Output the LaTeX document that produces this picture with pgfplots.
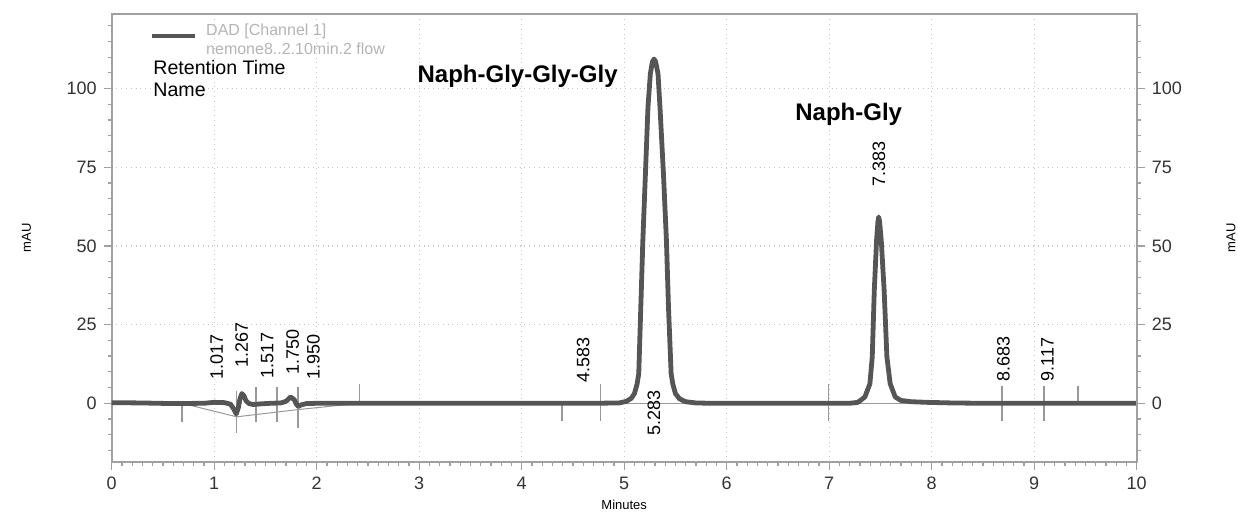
\documentclass[border=0pt]{standalone}
\usepackage{fontspec}
\setmainfont{Liberation Sans}
\usepackage{pgfplots}
\pgfplotsset{compat=1.18}

\definecolor{sig}{HTML}{555555}
\definecolor{axisgray}{HTML}{A0A0A0}
\definecolor{gridgray}{HTML}{C8C8C8}
\definecolor{markgray}{HTML}{999999}
\definecolor{legtext}{HTML}{B4B4B4}

\begin{document}
\begin{tikzpicture}
\pgfplotsset{
  chrom/.style={
    scale only axis,
    width=512.5pt, height=223.85pt,
    xmin=0, xmax=10, ymin=-18.56, ymax=123.7,
    ytick={0,25,...,100},
    minor ytick={-15,-10,...,120},
    tick align=outside,
    major tick length=4pt, minor tick length=2pt,
    tick style={axisgray, line width=0.6pt},
    axis line style={axisgray, line width=0.9pt},
    ticklabel style={font=\fontsize{9}{10}\selectfont, text=black!80},
    /pgf/number format/assume math mode=true,
  }
}

\begin{axis}[chrom,
  xtick={0,...,10},
  minor xtick={0,0.1,...,10},
  xtick pos=left, ytick pos=left,
  xmajorgrids, ymajorgrids,
  grid style={gridgray, dotted, line width=0.6pt},
  xlabel={Minutes}, ylabel={mAU},
  xlabel style={font=\fontsize{6.5}{7}\selectfont, at={(axis description cs:0.5,-0.0967)}, anchor=center},
  ylabel style={font=\fontsize{6.5}{7}\selectfont, at={(axis description cs:-0.0831,0.5)}, anchor=center},
  legend style={at={(axis cs:0.364,122.3)}, anchor=north west, draw=none, fill=none,
    inner sep=0pt, column sep=2.5pt, font=\fontsize{8}{9.25}\selectfont, text=legtext,
    legend cell align=left},
  legend image code/.code={\draw[#1] (0pt,-2.6pt) -- (21.5pt,-2.6pt);},
]

% baselines drawn by the integrator
\addplot[forget plot, markgray, line width=0.5pt] coordinates {
  (0.686,0) (1.22,-4.3) (1.818,-2.0) (2.42,0)
};
\addplot[forget plot, markgray, line width=0.5pt] coordinates {
  (4.77,0) (6.99,0) (8.686,0)
};

% peak start / end markers
\addplot[forget plot, markgray, line width=0.6pt, unbounded coords=jump] coordinates {
  (0.686,0.3) (0.686,-5.9) (nan,nan)
  (1.22,4.0) (1.22,-9.5) (nan,nan)
  (1.408,5.2) (1.408,-5.9) (nan,nan)
  (1.613,5.2) (1.613,-5.9) (nan,nan)
  (1.818,5.2) (1.818,-8.0) (nan,nan)
  (2.42,0) (2.42,6.0) (nan,nan)
  (4.393,0) (4.393,-5.5) (nan,nan)
  (4.77,6.0) (4.77,-5.5) (nan,nan)
  (6.99,6.0) (6.99,-5.5) (nan,nan)
  (8.686,5.5) (8.686,-5.5) (nan,nan)
  (9.096,5.5) (9.096,-5.5) (nan,nan)
  (9.427,0) (9.427,5.5)
};

% detector signal
\addplot[sig, line width=2.4pt, line join=round] coordinates {
  (0,0.2) (0.3,0.1) (0.6,-0.1) (0.9,0) (1.0,0.3) (1.1,0.2) (1.16,-0.3)
  (1.19,-1.8) (1.215,-3.4) (1.235,-1.5) (1.25,1.2) (1.27,3.1) (1.29,2.4)
  (1.31,0.8) (1.34,-0.1) (1.38,-0.4) (1.45,-0.2) (1.55,0) (1.65,0.1)
  (1.70,0.6) (1.745,2.0) (1.78,1.2) (1.80,-0.2) (1.82,-1.0) (1.85,-0.5)
  (1.9,-0.1) (2.0,0) (3.0,0) (4.7,0)
  (4.95,0.1) (5.02,0.6) (5.07,1.6) (5.10,3.1) (5.125,6) (5.142,9.4)
  (5.162,30.6) (5.182,51.7) (5.207,72.9) (5.232,94.1) (5.255,104.7)
  (5.275,108.5) (5.291,109.4) (5.307,108.5) (5.33,104.7) (5.349,94.1)
  (5.383,72.9) (5.412,51.7) (5.432,30.6) (5.458,9.4) (5.475,6) (5.50,3.1)
  (5.54,1.4) (5.60,0.5) (5.70,0.1) (5.85,0) (7.2,0)
  (7.28,0.3) (7.348,2.0) (7.397,6.2) (7.42,14.7) (7.44,35.9) (7.462,51.7)
  (7.475,57.6) (7.483,59.2) (7.492,57.6) (7.508,51.7) (7.536,35.9)
  (7.563,14.7) (7.595,6.2) (7.644,2.0) (7.70,0.9) (7.80,0.5) (7.95,0.3)
  (8.2,0.1) (8.5,0) (10,0)
};
\addlegendentry{\begin{tabular}[t]{@{}l@{}}DAD [Channel 1]\\nemone8..2.10min.2 flow\end{tabular}}

\node[anchor=base west, inner sep=0pt, font=\fontsize{9.8}{11}\selectfont] at (axis cs:0.403,104.6) {Retention Time};
\node[anchor=base west, inner sep=0pt, font=\fontsize{9.8}{11}\selectfont] at (axis cs:0.403,97.4) {Name};

\node[anchor=base east, inner sep=0pt, font=\fontsize{12}{14}\selectfont\bfseries] at (axis cs:4.94,101.8) {Naph-Gly-Gly-Gly};
\node[anchor=base, inner sep=0pt, font=\fontsize{12}{14}\selectfont\bfseries] at (axis cs:7.19,90.0) {Naph-Gly};

\begin{scope}[every node/.style={rotate=90, anchor=west, inner sep=0pt, font=\fontsize{9}{10}\selectfont}]
  \node at (axis cs:1.024,7.4) {1.017};
  \node at (axis cs:1.268,11.1) {1.267};
  \node at (axis cs:1.518,7.9) {1.517};
  \node at (axis cs:1.766,9.0) {1.750};
  \node at (axis cs:1.967,7.4) {1.950};
  \node at (axis cs:4.60,6.4) {4.583};
  \node at (axis cs:7.486,68.7) {7.383};
  \node at (axis cs:8.70,6.9) {8.683};
  \node at (axis cs:9.13,6.9) {9.117};
  \node[anchor=east] at (axis cs:5.29,4.2) {5.283};
\end{scope}
\end{axis}

\begin{axis}[chrom,
  axis x line=none, axis y line*=right,
  ylabel={mAU},
  ylabel style={font=\fontsize{6.5}{7}\selectfont, at={(axis description cs:1.092,0.5)}, anchor=center, rotate=0},
]
\end{axis}

\pgfresetboundingbox
\path[use as bounding box] (-55.85pt,-25.15pt) rectangle (563.15pt,230.85pt);
\end{tikzpicture}
\end{document}
